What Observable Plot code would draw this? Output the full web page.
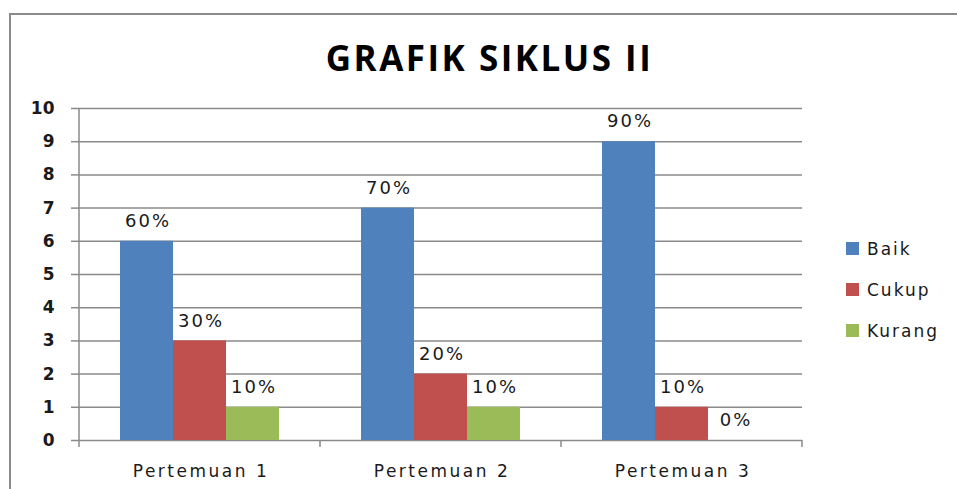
<!DOCTYPE html>
<html>
<head>
<meta charset="utf-8">
<script src="https://cdn.jsdelivr.net/npm/d3@7"></script>
<script src="https://cdn.jsdelivr.net/npm/@observablehq/plot@0.6"></script>
<style>
  html, body { margin: 0; padding: 0; background: #fff; }
  #wrap { position: relative; width: 957px; height: 489px; overflow: hidden; font-family: "DejaVu Sans", sans-serif; }
  #border { position: absolute; left: 9px; top: 13px; width: 1200px; height: 800px; border: 2px solid #8a8a8a; box-sizing: border-box; }
  #title { position: absolute; left: 0; width: 979px; top: 37px; line-height: 42px; text-align: center; font-family: "Open Sans", sans-serif; font-weight: bold; font-size: 35px; letter-spacing: 2.5px; color: #000; }
  #chart { position: absolute; left: 0; top: 0; }
  #legend { position: absolute; left: 846px; top: 228px; }
  .row { display: flex; align-items: center; height: 41px; }
  .sw { width: 13px; height: 13px; margin-right: 8px; }
  .lab { font-size: 17px; letter-spacing: 2px; color: #1a1a1a; }
</style>
</head>
<body>
<div id="wrap">
  <div id="border"></div>
  <div id="chart"></div>
  <div id="title">GRAFIK SIKLUS II</div>
  <div id="legend"></div>
</div>
<script>
const categories = ["Pertemuan 1", "Pertemuan 2", "Pertemuan 3"];
const series = ["Baik", "Cukup", "Kurang"];
const baik = [6, 7, 9];
const cukup = [3, 2, 1];
const kurang = [1, 1, 0];
const colors = ["#4F81BD", "#C0504D", "#9BBB59"];
const yTicks = [0, 1, 2, 3, 4, 5, 6, 7, 8, 9, 10];

const values = [baik, cukup, kurang];
const data = [];
categories.forEach((c, i) => {
  series.forEach((s, j) => {
    data.push({cat: c, series: s, value: values[j][i], label: `${values[j][i] * 10}%`});
  });
});

const chart = Plot.plot({
  width: 957,
  height: 489,
  marginLeft: 78,
  marginRight: 154,
  marginTop: 108,
  marginBottom: 49,
  style: {fontFamily: "DejaVu Sans, sans-serif", background: "transparent", overflow: "visible"},
  fx: {domain: categories, padding: 0, label: null, axis: null},
  x: {domain: series, paddingInner: 0, paddingOuter: 0.74, axis: null},
  y: {domain: [0, 10], axis: null},
  color: {domain: series, range: colors},
  marks: [
    Plot.gridY(yTicks, {stroke: "#8a8a8a", strokeOpacity: 1, strokeWidth: 1.5}),
    Plot.barY(data, {fx: "cat", x: "series", y: "value", fill: "series"}),
    Plot.text(data, {fx: "cat", x: "series", y: "value", text: "label", dy: -20, dx: 1, fontSize: 18, fill: "#1a1a1a"}),
    Plot.axisY(yTicks, {tickSize: 8, tickPadding: 17, stroke: "#8a8a8a", strokeWidth: 1.5, fill: "#1a1a1a", fontSize: 17, fontWeight: "bold", label: null, tickFormat: d => d}),
    Plot.axisFx({anchor: "bottom", tickSize: 0, tickPadding: 24, fontSize: 17, fill: "#1a1a1a", label: null, dx: 1})
  ]
});

document.getElementById("chart").appendChild(chart);

const svg = d3.select(chart);
svg.selectAll('g[aria-label="text"] text').style("letter-spacing", "2px");
svg.selectAll('g[aria-label="fx-axis tick label"] text').style("letter-spacing", "2.5px");

// axis line and category separators derived from the plot's scales
const fx = chart.scale("fx");
const y = chart.scale("y");
const g = svg.append("g").attr("stroke", "#8a8a8a").attr("stroke-width", 1.5);
const y0 = y.apply(0), y10 = y.apply(10);
const x0 = fx.apply(categories[0]);
g.append("line").attr("x1", x0).attr("x2", x0).attr("y1", y10).attr("y2", y0 + 7);
const edges = categories.slice(1).map(c => fx.apply(c));
edges.push(fx.apply(categories[categories.length - 1]) + fx.bandwidth);
edges.forEach(x => g.append("line").attr("x1", x).attr("x2", x).attr("y1", y0).attr("y2", y0 + 7));

// legend
const legend = document.getElementById("legend");
series.forEach((s, i) => {
  const row = document.createElement("div");
  row.className = "row";
  row.innerHTML = `<div class="sw" style="background:${colors[i]}"></div><div class="lab">${s}</div>`;
  legend.appendChild(row);
});
</script>
</body>
</html>
